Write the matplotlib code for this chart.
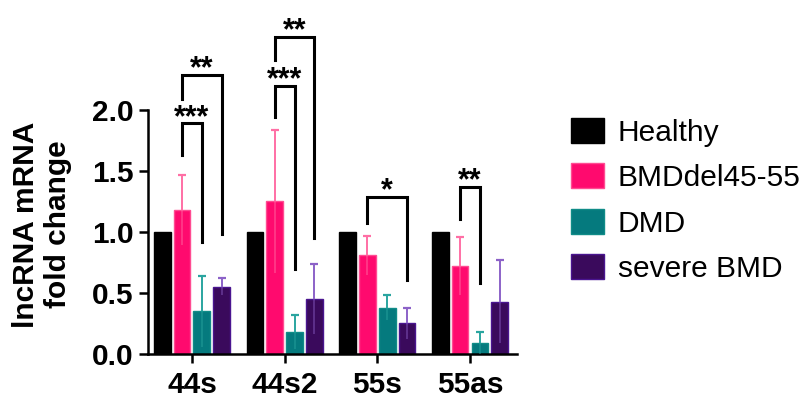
import matplotlib
matplotlib.use('Agg')
import matplotlib.pyplot as plt
import numpy as np

plt.rcParams['font.family'] = ['Liberation Sans', 'DejaVu Sans']

# Dados
genes = ['44s', '44s2', '55s', '55as']
groups = ['Healthy', 'BMDdel45-55', 'DMD', 'severe BMD']
healthy = [1.0, 1.0, 1.0, 1.0]
bmd = [1.18, 1.25, 0.81, 0.72]
dmd = [0.35, 0.18, 0.38, 0.09]
severe = [0.55, 0.45, 0.25, 0.43]
healthy_err = [0.0, 0.0, 0.0, 0.0]
bmd_err = [0.29, 0.59, 0.16, 0.24]
dmd_err = [0.29, 0.14, 0.10, 0.09]
severe_err = [0.07, 0.29, 0.13, 0.34]

# Significância: (gene, barra i, barra j, base esquerda, base direita, topo, texto)
sig_gene = [0, 0, 1, 1, 2, 3]
sig_i = [1, 1, 1, 1, 1, 1]
sig_j = [2, 3, 2, 3, 3, 2]
sig_left = [1.63, 2.09, 1.94, 2.41, 1.07, 1.11]
sig_right = [0.92, 0.98, 0.70, 0.95, 0.61, 0.58]
sig_top = [1.89, 2.29, 2.20, 2.60, 1.29, 1.37]
sig_text = ['***', '**', '***', '**', '*', '**']

values = [healthy, bmd, dmd, severe]
errors = [healthy_err, bmd_err, dmd_err, severe_err]
fills = ['#000000', '#FF0A6E', '#057A7E', '#3A0A5C']
edges = ['#000000', '#FF4C92', '#108C88', '#4A1590']
err_colors = ['#000000', '#FF6FA5', '#2AA5A0', '#8C62C8']

fs = 21.5

fig = plt.figure(figsize=(8.02, 3.98), dpi=100)
ax = fig.add_axes([0.1845, 0.1106, 0.46, 0.613])

x = np.arange(len(genes))
step = 0.2125
width = 0.18
handles = []
for k in range(4):
    xpos = x + (k - 1.5) * step
    b = ax.bar(xpos, values[k], width, color=fills[k], edgecolor=edges[k],
               linewidth=1.0, label=groups[k], zorder=2)
    handles.append(b)
    v = np.array(values[k])
    e = np.array(errors[k])
    if k > 0:
        ax.vlines(xpos, v - e, v, color=err_colors[k], linewidth=1.2, alpha=0.5, zorder=3)
        ax.vlines(xpos, v, v + e, color=err_colors[k], linewidth=1.4, zorder=3)
        ax.plot(xpos, v + e, linestyle='none', marker='_', markersize=6,
                markeredgewidth=1.6, color=err_colors[k], zorder=3)

# Colchetes de significância
for g, i, j, yl, yr, yt, txt in zip(sig_gene, sig_i, sig_j, sig_left, sig_right, sig_top, sig_text):
    x1 = x[g] + (i - 1.5) * step
    x2 = x[g] + (j - 1.5) * step
    ax.plot([x1, x1, x2, x2], [yl, yt, yt, yr], color='black', linewidth=2.2,
            clip_on=False, solid_joinstyle='miter', zorder=4)
    ax.text((x1 + x2) / 2, yt - 0.02, txt, ha='center', va='baseline',
            fontsize=22, fontweight='bold', clip_on=False)

ax.set_xlim(-0.475, 3.506)
ax.set_ylim(0, 2.0)
ax.set_yticks([0.0, 0.5, 1.0, 1.5, 2.0])
ax.set_yticklabels(['0.0', '0.5', '1.0', '1.5', '2.0'])
ax.set_xticks(x)
ax.set_xticklabels(genes)
for s in ['top', 'right']:
    ax.spines[s].set_visible(False)
for s in ['left', 'bottom']:
    ax.spines[s].set_linewidth(1.8)
ax.tick_params(axis='both', length=6.5, width=1.8, labelsize=fs, pad=4)
ax.tick_params(axis='x', pad=6)
for lab in ax.get_xticklabels() + ax.get_yticklabels():
    lab.set_fontweight('bold')

ax.set_ylabel('lncRNA mRNA\nfold change', fontsize=fs, fontweight='bold')
ax.yaxis.set_label_coords(-0.206, 0.53)

ax.legend(handles=handles, loc='upper left', bbox_to_anchor=(0.712, 0.7035),
          bbox_transform=fig.transFigure, frameon=False, fontsize=fs,
          handlelength=1.1, handleheight=0.9, handletextpad=0.47,
          labelspacing=0.56, borderaxespad=0, borderpad=0)

fig.savefig('out.png', dpi=100)
